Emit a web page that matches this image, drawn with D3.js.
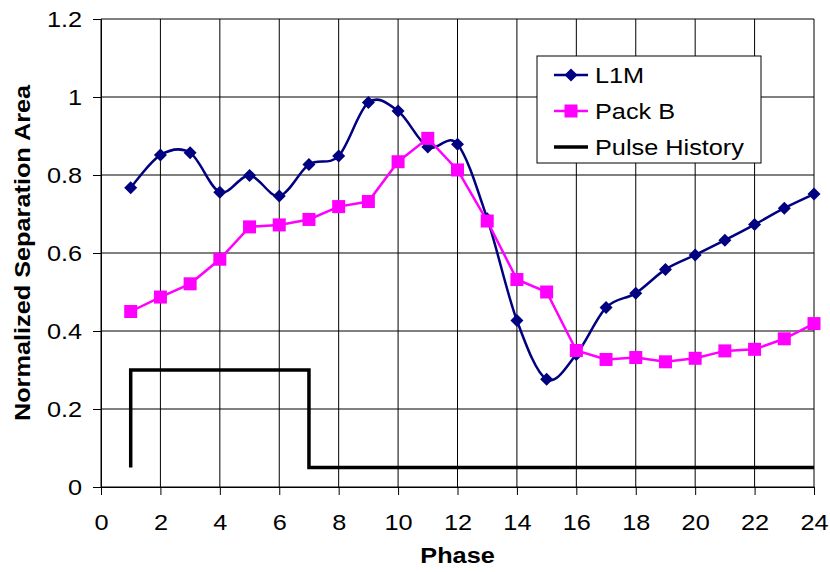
<!DOCTYPE html>
<html>
<head>
<meta charset="utf-8">
<script src="https://cdn.jsdelivr.net/npm/d3@7"></script>
<style>
  html, body { margin: 0; padding: 0; background: #fff; }
  svg { display: block; font-family: "Liberation Sans", Arial, sans-serif; }
</style>
</head>
<body>
<svg id="chart" width="830" height="572"></svg>
<script>
const phases = d3.range(1, 25);
const l1m = [0.767, 0.851, 0.857, 0.756, 0.799, 0.746, 0.827, 0.849, 0.986, 0.964, 0.872, 0.879,
             0.688, 0.427, 0.276, 0.340, 0.460, 0.497, 0.558, 0.595, 0.633, 0.673, 0.715, 0.751];
const packB = [0.450, 0.487, 0.521, 0.584, 0.667, 0.672, 0.686, 0.719, 0.732, 0.834, 0.894, 0.813,
               0.682, 0.532, 0.500, 0.350, 0.327, 0.332, 0.321, 0.330, 0.349, 0.353, 0.380, 0.419];
const pulseX = [1, 1, 7, 7, 24];
const pulseY = [0.05, 0.3, 0.3, 0.05, 0.05];
const xTicks = d3.range(0, 25, 2);
const yTicks = [0, 0.2, 0.4, 0.6, 0.8, 1, 1.2];
const seriesNames = ["L1M", "Pack B", "Pulse History"];

(function () {
const svg = d3.select("#chart");
const pLeft = 101, pRight = 814, pTop = 19, pBottom = 487;
const SX = 1.15; // horizontal glyph stretch of the original
const x = d3.scaleLinear().domain([0, 24]).range([pLeft, pRight]);
const y = d3.scaleLinear().domain([0, 1.2]).range([pBottom, pTop]);

// grid
const g = svg.append("g");
g.selectAll(".vg").data(xTicks).enter().append("line")
  .attr("x1", d => x(d)).attr("x2", d => x(d)).attr("y1", pTop).attr("y2", pBottom)
  .attr("stroke", "#000").attr("stroke-width", 1);
g.selectAll(".hg").data(yTicks).enter().append("line")
  .attr("x1", pLeft).attr("x2", pRight).attr("y1", d => y(d)).attr("y2", d => y(d))
  .attr("stroke", "#000").attr("stroke-width", 1);

// axes
const xAxis = d3.axisBottom(x).tickValues(xTicks).tickSize(8).tickPadding(19).tickFormat(d3.format("d"));
const yAxis = d3.axisLeft(y).tickValues(yTicks).tickSize(8).tickPadding(8.5).tickFormat(d => d3.format("")(d));
const gx = svg.append("g").attr("transform", `translate(0,${pBottom})`).call(xAxis);
const gy = svg.append("g").attr("transform", `translate(${pLeft},0)`).call(yAxis);
[gx, gy].forEach(a => {
  a.select(".domain").attr("stroke", "#000");
  a.selectAll(".tick line").attr("stroke", "#000");
  a.selectAll(".tick text").attr("fill", "#000").style("font-size", "22px")
    .style("font-family", "'Liberation Sans', Arial, sans-serif")
    .attr("transform", `scale(${SX},1)`);
});

// axis titles
svg.append("text").attr("transform", `translate(${(pLeft + pRight) / 2},563) scale(${SX},1)`)
  .attr("text-anchor", "middle")
  .style("font-size", "22px").style("font-weight", "bold").text("Phase");
svg.append("text").attr("transform", `translate(30,${(pTop + pBottom) / 2}) rotate(-90) scale(${SX},1)`)
  .attr("text-anchor", "middle").style("font-size", "22px").style("font-weight", "bold")
  .text("Normalized Separation Area");

// pulse
const pulse = pulseX.map((d, i) => [d, pulseY[i]]);
svg.append("path").datum(pulse)
  .attr("d", d3.line().x(d => x(d[0])).y(d => y(d[1])))
  .attr("fill", "none").attr("stroke", "#000").attr("stroke-width", 3.5);

// L1M smooth
const l1mData = phases.map((p, i) => [p, l1m[i]]);
svg.append("path").datum(l1mData)
  .attr("d", d3.line().x(d => x(d[0])).y(d => y(d[1])).curve(d3.curveCardinal.tension(0)))
  .attr("fill", "none").attr("stroke", "#000080").attr("stroke-width", 2.5);

// Pack B
const pbData = phases.map((p, i) => [p, packB[i]]);
svg.append("path").datum(pbData)
  .attr("d", d3.line().x(d => x(d[0])).y(d => y(d[1])))
  .attr("fill", "none").attr("stroke", "#FF00FF").attr("stroke-width", 2.5);

const diamond = s => `M0,${-s}L${s},0L0,${s}L${-s},0Z`;
svg.selectAll(".dm").data(l1mData).enter().append("path")
  .attr("transform", d => `translate(${x(d[0])},${y(d[1])})`)
  .attr("d", diamond(6.5)).attr("fill", "#000080");
svg.selectAll(".sq").data(pbData).enter().append("rect")
  .attr("x", d => x(d[0]) - 6.5).attr("y", d => y(d[1]) - 6.5)
  .attr("width", 13).attr("height", 13).attr("fill", "#FF00FF");

// legend
const lg = svg.append("g");
lg.append("rect").attr("x", 537).attr("y", 56).attr("width", 224).attr("height", 107)
  .attr("fill", "#fff").attr("stroke", "#000").attr("stroke-width", 1);
const rows = [75, 111, 147];
const colors = ["#000080", "#FF00FF", "#000"];
rows.forEach((ry, i) => {
  lg.append("line").attr("x1", 554).attr("x2", 588).attr("y1", ry).attr("y2", ry)
    .attr("stroke", colors[i]).attr("stroke-width", i === 2 ? 3.5 : 2.5);
  if (i === 0) lg.append("path").attr("transform", `translate(571,${ry})`).attr("d", diamond(6.5)).attr("fill", colors[0]);
  if (i === 1) lg.append("rect").attr("x", 571 - 6.5).attr("y", ry - 6.5).attr("width", 13).attr("height", 13).attr("fill", colors[1]);
  lg.append("text").attr("transform", `translate(595,${ry + 8}) scale(${SX},1)`)
    .style("font-size", "22px").text(seriesNames[i]);
});
})();
</script>
</body>
</html>
